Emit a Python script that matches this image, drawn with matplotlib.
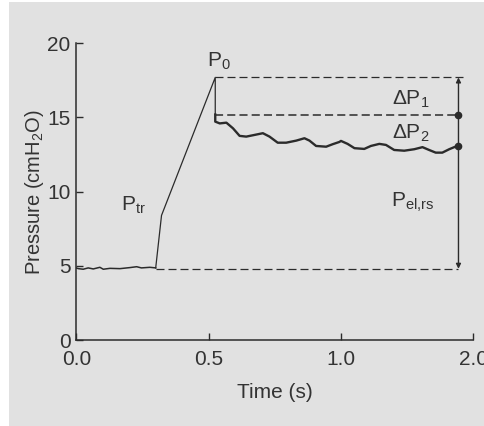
import matplotlib
matplotlib.use("Agg")
import matplotlib.pyplot as plt
from matplotlib.patches import Rectangle

# baseline before the inflation (s, cmH2O)
base_t = [0.0, 0.008, 0.026, 0.045, 0.064, 0.089, 0.102, 0.127, 0.165, 0.202, 0.228, 0.246, 0.278, 0.300]
base_p = [4.85, 4.81, 4.77, 4.86, 4.79, 4.90, 4.77, 4.83, 4.81, 4.88, 4.94, 4.86, 4.90, 4.86]

# inflation ramp up to the peak and the drop at occlusion
ramp_t = [0.300, 0.322, 0.525, 0.525]
ramp_p = [4.86, 8.4, 17.7, 15.2]

# plateau after occlusion
plat_t = [0.525, 0.525, 0.542, 0.567, 0.592, 0.617, 0.642, 0.667, 0.705, 0.730, 0.761, 0.793,
          0.831, 0.862, 0.881, 0.906, 0.944, 0.969, 0.994, 1.000, 1.025, 1.051, 1.088, 1.113,
          1.145, 1.170, 1.201, 1.239, 1.277, 1.308, 1.333, 1.358, 1.383, 1.409, 1.428, 1.443]
plat_p = [15.2, 14.72, 14.6, 14.65, 14.27, 13.76, 13.71, 13.8, 13.94, 13.71, 13.3, 13.3,
          13.44, 13.6, 13.44, 13.08, 13.03, 13.2, 13.35, 13.42, 13.22, 12.93, 12.88, 13.08,
          13.22, 13.15, 12.81, 12.76, 12.86, 13.0, 12.81, 12.63, 12.63, 12.86, 13.0, 13.1]

# reference levels
t_peak = 0.525
t_end = 1.444
p_peak = 17.7
p_p1 = 15.2
p_p2 = 13.1
p_base = 4.8

x_ticks = [0.0, 0.5, 1.0, 1.5]
x_labels = ['0.0', '0.5', '1.0', '2.0']
y_ticks = [0, 5, 10, 15, 20]

ink = '#2b2b2b'
txt = '#333333'
bg = '#e1e1e1'

plt.rcParams['font.family'] = ['Liberation Sans', 'DejaVu Sans']
plt.rcParams['mathtext.fontset'] = 'custom'
plt.rcParams['mathtext.rm'] = 'Liberation Sans'
plt.rcParams['mathtext.it'] = 'Liberation Sans'
plt.rcParams['mathtext.default'] = 'rm'

fig = plt.figure(figsize=(4.85, 4.26), dpi=100, facecolor='white')
fig.patches.append(Rectangle((9 / 485, 0), 1, 1 - 2 / 426, transform=fig.transFigure,
                             facecolor=bg, edgecolor='none', zorder=-10))
ax = fig.add_axes([76.3 / 485, 1 - 340 / 426, (473.3 - 76.3) / 485, (340 - 43.3) / 426])
ax.set_facecolor('none')

# signal
ax.plot(base_t, base_p, color=ink, lw=1.1)
ax.plot(ramp_t, ramp_p, color=ink, lw=0.9)
ax.plot(plat_t, plat_p, color=ink, lw=1.7)

# dashed reference lines
dash = dict(color=ink, lw=0.9, dashes=(6.4, 3.2))
ax.plot([t_peak, 1.461], [p_peak, p_peak], **dash)
ax.plot([t_peak, t_end], [p_p1, p_p1], color=ink, lw=1.1, dashes=(5.3, 2.7))
ax.plot([0.300, t_end], [p_base, p_base], **dash)

# double arrow and the two points
ax.annotate('', xy=(t_end, p_peak), xytext=(t_end, p_base),
            arrowprops=dict(arrowstyle='<|-|>', color=ink, lw=1.0, mutation_scale=7,
                            shrinkA=0, shrinkB=0))
ax.plot([t_end, t_end], [p_p1, p_p2], 'o', color=ink, ms=4.5)

# labels
lab = dict(color=txt, fontsize=15, ha='center', va='center')
ax.text(0.538, 18.75, r'P$_0$', **lab)
ax.text(0.214, 9.1, r'P$_{tr}$', **lab)
ax.text(1.265, 16.25, r'$\Delta$P$_1$', **lab)
ax.text(1.265, 13.9, r'$\Delta$P$_2$', **lab)
ax.text(1.27, 9.3, r'P$_{el{,}rs}$', **lab)

ax.set_xlim(0, 1.5)
ax.set_ylim(0, 20)
ax.set_xticks(x_ticks)
ax.set_xticklabels(x_labels)
ax.set_yticks(y_ticks)
ax.tick_params(direction='in', length=5, width=1.0, colors=ink, labelcolor=txt,
               labelsize=15, pad=4)
ax.tick_params(axis='x', pad=7)
for s in ['top', 'right']:
    ax.spines[s].set_visible(False)
for s in ['left', 'bottom']:
    ax.spines[s].set_color(ink)
    ax.spines[s].set_linewidth(1.1)

ax.set_xlabel('Time (s)', fontsize=15, color=txt, labelpad=10)
ax.set_ylabel(r'Pressure (cmH$_2$O)', fontsize=14.5, color=txt, labelpad=1)

fig.savefig('out.png', dpi=100, facecolor='white')
